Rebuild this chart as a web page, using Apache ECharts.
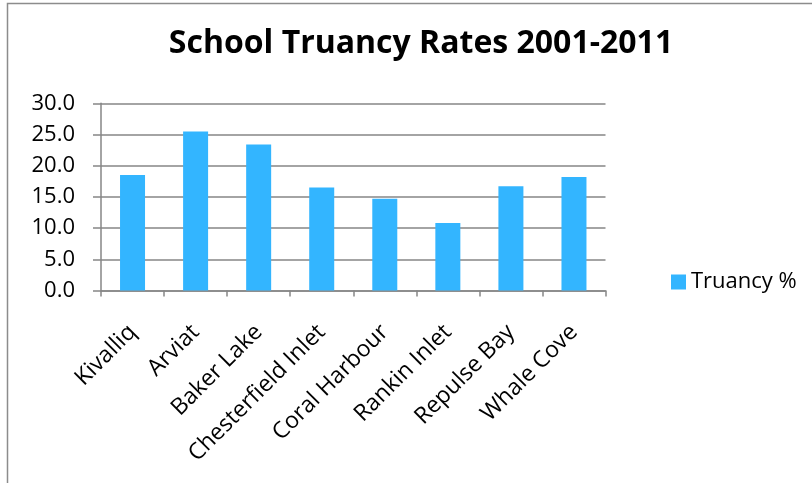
<!DOCTYPE html>
<html><head><meta charset="utf-8">
<script src="https://cdn.jsdelivr.net/npm/echarts@6/dist/echarts.min.js"></script>
<style>html,body{margin:0;padding:0;background:#fff}#c{width:812px;height:483px}</style>
</head><body><div id="c"></div>
<script>
var categories = ['Kivalliq','Arviat','Baker Lake','Chesterfield Inlet','Coral Harbour','Rankin Inlet','Repulse Bay','Whale Cove'];
var truancy = [18.5, 25.5, 23.4, 16.5, 14.7, 10.8, 16.7, 18.2];
var seriesName = 'Truancy %';
var titleText = 'School Truancy Rates 2001-2011';

var chart = echarts.init(document.getElementById('c'), null, {renderer:'canvas'});
chart.setOption({
  animation:false,
  backgroundColor:'#fff',
  graphic:[{type:'polyline', shape:{points:[[7.5,490],[7.5,3.5],[820,3.5]]}, style:{stroke:'#8c8c8c', lineWidth:1.5, fill:null}}],
  title:{text:titleText, left:416, top:23, textAlign:'center',
    textStyle:{fontFamily:'Open Sans', fontWeight:'bold', fontSize:32, color:'#000'}},
  legend:{data:[seriesName], left:666, top:266, itemWidth:15, itemHeight:15, itemGap:6,
    textStyle:{fontFamily:'Open Sans', fontSize:22, color:'#000'}, icon:'rect'},
  grid:{left:101, right:206.5, top:103.3, bottom:192.5, containLabel:false},
  xAxis:{type:'category', data:categories,
    axisLine:{lineStyle:{color:'#868686', width:1.5}},
    axisTick:{show:true, length:6, lineStyle:{color:'#868686', width:1.5}},
    axisLabel:{rotate:45, interval:0, margin:38, fontFamily:'Open Sans', fontSize:23, color:'#000'}},
  yAxis:{type:'value', min:0, max:30, interval:5,
    axisLine:{show:true, lineStyle:{color:'#868686', width:1.5}},
    axisTick:{show:true, length:8, lineStyle:{color:'#868686', width:1.5}},
    splitLine:{lineStyle:{color:'#868686', width:1.5}},
    axisLabel:{formatter:function(v){return v.toFixed(1);}, margin:26, fontFamily:'Open Sans', fontSize:22, color:'#000'}},
  series:[{name:seriesName, type:'bar', data:truancy, barWidth:25,
    itemStyle:{color:'#33b5ff'}}]
});
</script></body></html>
